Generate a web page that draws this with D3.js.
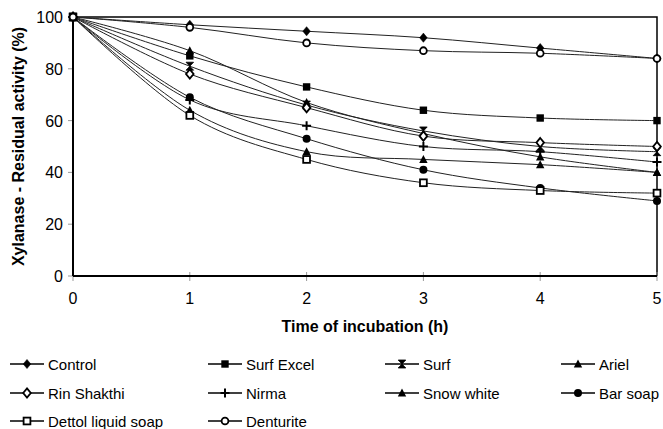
<!DOCTYPE html>
<html><head><meta charset="utf-8">
<script src="https://cdn.jsdelivr.net/npm/d3@7"></script>
<style>
body{margin:0;background:#fff;}
svg{display:block;font-family:"Liberation Sans",Arial,sans-serif;}
</style></head>
<body><svg id="c" width="663" height="429"></svg>
<script>
const hours = [0, 1, 2, 3, 4, 5];
const seriesNames = ["Control","Surf Excel","Surf","Ariel","Rin Shakthi","Nirma","Snow white","Bar soap","Dettol liquid soap","Denturite"];
const control    = [100, 97, 94.5, 92, 88, 84];
const surfExcel  = [100, 85, 73, 64, 61, 60];
const surf       = [100, 81, 66, 56, 50, 48];
const ariel      = [100, 87, 67, 55, 46, 40];
const rinShakthi = [100, 78, 65, 54, 51.5, 50];
const nirma      = [100, 68, 58, 50, 48, 44];
const snowWhite  = [100, 64, 48, 45, 43, 40];
const barSoap    = [100, 69, 53, 41, 34, 29];
const dettol     = [100, 62, 45, 36, 33, 32];
const denturite  = [100, 96, 90, 87, 86, 84];
const yTicks = [0, 20, 40, 60, 80, 100];
const xTicks = [0, 1, 2, 3, 4, 5];

const seriesValues = [control, surfExcel, surf, ariel, rinShakthi, nirma, snowWhite, barSoap, dettol, denturite];
const markerTypes = ["diamond","square","hourglass","triangle","diamondOpen","plus","triangle","circle","squareOpen","circleOpen"];

const svg = d3.select("#c");
const m = {l:73, r:6, t:17, b:153};
const W = 663, H = 429;
const x = d3.scaleLinear().domain([0,5]).range([m.l, W - m.r]);
const y = d3.scaleLinear().domain([0,100]).range([H - m.b, m.t]);

// frame top/right
svg.append("path")
  .attr("d", `M${x(0)},${y(100)}H${x(5)}V${y(0)}`)
  .attr("fill","none").attr("stroke","#000").attr("stroke-width",1.5);

// x axis ticks (grey, crossing)
const gx = svg.append("g");
gx.selectAll("line.t").data(xTicks).join("line")
  .attr("x1", d=>x(d)).attr("x2", d=>x(d))
  .attr("y1", y(0)-4).attr("y2", y(0)+5)
  .attr("stroke","#999").attr("stroke-width",1);
gx.selectAll("text").data(xTicks).join("text")
  .attr("x", d=>x(d)).attr("y", y(0)+28)
  .attr("text-anchor","middle").attr("font-size",16).text(d=>d);

// y axis ticks
const gy = svg.append("g");
gy.selectAll("line.t").data(yTicks).join("line")
  .attr("x1", x(0)-5).attr("x2", x(0))
  .attr("y1", d=>y(d)).attr("y2", d=>y(d))
  .attr("stroke","#999").attr("stroke-width",1);
gy.selectAll("text").data(yTicks).join("text")
  .attr("x", x(0)-10).attr("y", d=>y(d)+6)
  .attr("text-anchor","end").attr("font-size",16).text(d=>d);

// axis lines
svg.append("line").attr("x1",x(0)).attr("x2",x(0)).attr("y1",y(100)).attr("y2",y(0))
  .attr("stroke","#000").attr("stroke-width",2);
svg.append("line").attr("x1",x(0)).attr("x2",x(5)).attr("y1",y(0)).attr("y2",y(0))
  .attr("stroke","#000").attr("stroke-width",2);

// titles
svg.append("text").attr("x",(x(0)+x(5))/2).attr("y",332)
  .attr("text-anchor","middle").attr("font-size",16).attr("font-weight","bold")
  .text("Time of incubation (h)");
svg.append("text").attr("transform",`translate(24,${(y(0)+y(100))/2}) rotate(-90)`)
  .attr("text-anchor","middle").attr("font-size",16).attr("font-weight","bold")
  .text("Xylanase - Residual activity (%)");

// lines
const line = d3.line().x((d,i)=>x(hours[i])).y(d=>y(d)).curve(d3.curveCardinal.tension(0));
const gl = svg.append("g");
seriesValues.forEach(vals=>{
  gl.append("path").attr("d", line(vals)).attr("fill","none")
    .attr("stroke","#222").attr("stroke-width",1);
});

function drawMarker(g, type, cx, cy){
  const s = 3.8;
  if(type==="diamond"||type==="diamondOpen"){
    g.append("path").attr("d",`M${cx},${cy-s-0.8}L${cx+s},${cy}L${cx},${cy+s+0.8}L${cx-s},${cy}Z`)
      .attr("fill", type==="diamond"?"#000":"#fff").attr("stroke","#000").attr("stroke-width", type==="diamond"?0.5:1.8);
  } else if(type==="square"||type==="squareOpen"){
    const q = type==="square"?3.7:3.4;
    g.append("rect").attr("x",cx-q).attr("y",cy-q).attr("width",2*q).attr("height",2*q)
      .attr("fill", type==="square"?"#000":"#fff").attr("stroke","#000").attr("stroke-width", type==="square"?0:1.8);
  } else if(type==="circle"||type==="circleOpen"){
    g.append("circle").attr("cx",cx).attr("cy",cy).attr("r", type==="circle"?4:3.4)
      .attr("fill", type==="circle"?"#000":"#fff").attr("stroke","#000").attr("stroke-width", type==="circle"?0:1.8);
  } else if(type==="triangle"){
    g.append("path").attr("d",`M${cx},${cy-4.4}L${cx+4.2},${cy+3.6}L${cx-4.2},${cy+3.6}Z`).attr("fill","#000");
  } else if(type==="hourglass"){
    g.append("path").attr("d",`M${cx-3.8},${cy-4}H${cx+3.8}L${cx-3.8},${cy+4}H${cx+3.8}Z`)
      .attr("fill","#000").attr("stroke","#000").attr("stroke-width",0.8);
  } else if(type==="plus"){
    g.append("path").attr("d",`M${cx-4.5},${cy}H${cx+4.5}M${cx},${cy-4.5}V${cy+4.5}`)
      .attr("stroke","#000").attr("stroke-width",2);
  }
}

const gm = svg.append("g");
seriesValues.forEach((vals,k)=>{
  vals.forEach((v,i)=> drawMarker(gm, markerTypes[k], x(hours[i]), y(v)));
});

// legend
const colX = [10, 208, 385, 561];
const rowY = [364, 393, 421];
const lg = svg.append("g");
seriesNames.forEach((name,k)=>{
  const cx = colX[k%4], cy = rowY[Math.floor(k/4)];
  lg.append("line").attr("x1",cx).attr("x2",cx+34).attr("y1",cy).attr("y2",cy)
    .attr("stroke","#000").attr("stroke-width",1.5);
  drawMarker(lg, markerTypes[k], cx+17, cy);
  lg.append("text").attr("x",cx+38).attr("y",cy+5.5).attr("font-size",15).text(name);
});
</script></body></html>
